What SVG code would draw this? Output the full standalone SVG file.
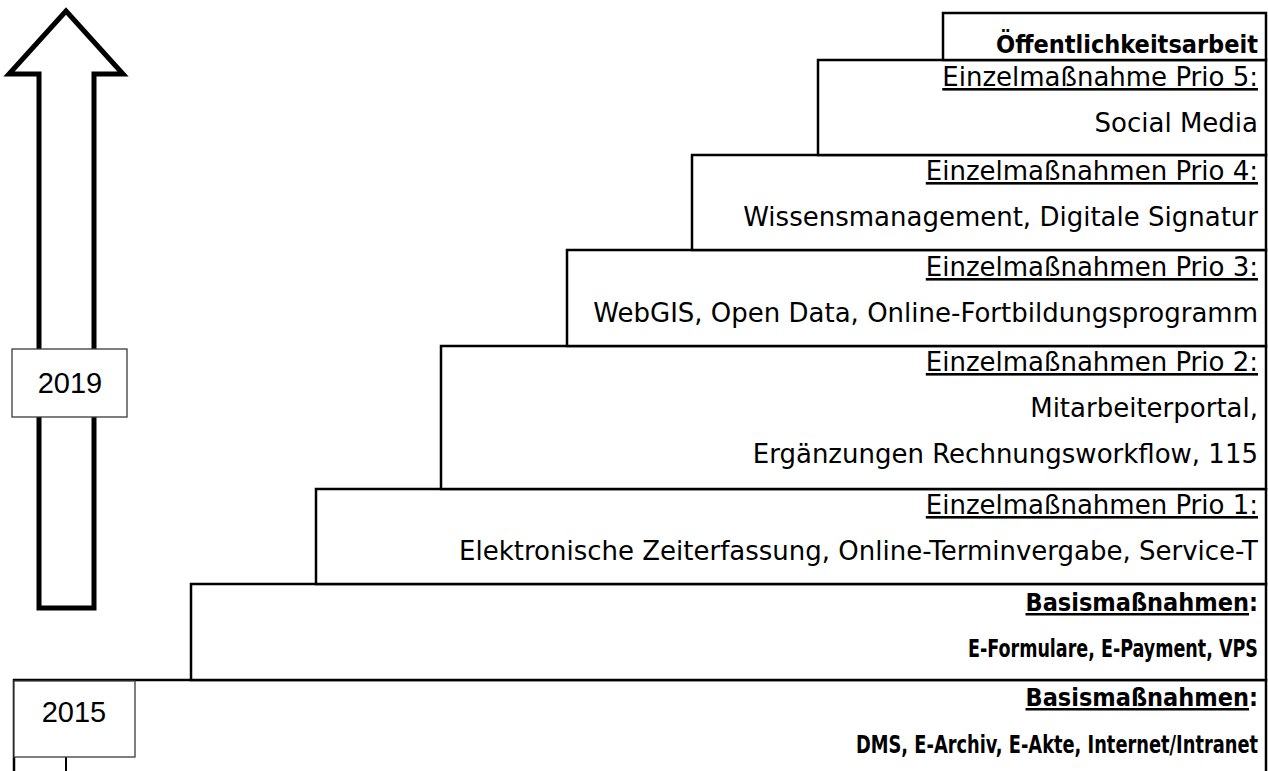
<svg xmlns="http://www.w3.org/2000/svg" width="1268" height="771" viewBox="0 0 1268 771">
  <style>
    .step { fill: #ffffff; stroke: #000000; stroke-width: 2.5; }
    .year { fill: #ffffff; stroke: #3a3a3a; stroke-width: 1.3; }
    .lbl { font-family: "DejaVu Sans", "Liberation Sans", sans-serif; font-size: 26px; fill: #000000; text-anchor: end; }
    .b { font-family: "DejaVu Sans Condensed", "DejaVu Sans", sans-serif; font-stretch: condensed; font-size: 25px; font-weight: bold; }
    .u { text-decoration: underline; }
    .yr { font-family: "Liberation Sans", "DejaVu Sans", sans-serif; font-size: 29px; fill: #000000; text-anchor: middle; }
  </style>

  <rect width="1268" height="771" fill="#ffffff"/>

  <!-- staircase of measures, bottom step first -->
  <g id="step-basis1">
    <rect class="step" x="14" y="680" width="1252" height="120"/>
    <text class="lbl b" x="1258" y="706"><tspan class="u">Basismaßnahmen</tspan>:</text>
    <text class="lbl b" x="1258" y="753" textLength="402" lengthAdjust="spacingAndGlyphs">DMS, E-Archiv, E-Akte, Internet/Intranet</text>
  </g>

  <g id="step-basis2">
    <rect class="step" x="191" y="584" width="1075" height="96"/>
    <text class="lbl b" x="1258" y="611"><tspan class="u">Basismaßnahmen</tspan>:</text>
    <text class="lbl b" x="1258" y="657" textLength="290" lengthAdjust="spacingAndGlyphs">E-Formulare, E-Payment, VPS</text>
  </g>

  <g id="step-prio1">
    <rect class="step" x="316" y="489" width="950" height="95"/>
    <text class="lbl" x="1258" y="514"><tspan class="u">Einzelmaßnahmen Prio 1:</tspan></text>
    <text class="lbl" x="1258" y="560">Elektronische Zeiterfassung, Online-Terminvergabe, Service-T</text>
  </g>

  <g id="step-prio2">
    <rect class="step" x="441" y="346" width="825" height="143"/>
    <text class="lbl" x="1258" y="371"><tspan class="u">Einzelmaßnahmen Prio 2:</tspan></text>
    <text class="lbl" x="1258" y="417">Mitarbeiterportal,</text>
    <text class="lbl" x="1258" y="463">Ergänzungen Rechnungsworkflow, 115</text>
  </g>

  <g id="step-prio3">
    <rect class="step" x="567" y="250" width="699" height="96"/>
    <text class="lbl" x="1258" y="276"><tspan class="u">Einzelmaßnahmen Prio 3:</tspan></text>
    <text class="lbl" x="1258" y="322">WebGIS, Open Data, Online-Fortbildungsprogramm</text>
  </g>

  <g id="step-prio4">
    <rect class="step" x="692" y="155" width="574" height="95"/>
    <text class="lbl" x="1258" y="180"><tspan class="u">Einzelmaßnahmen Prio 4:</tspan></text>
    <text class="lbl" x="1258" y="226">Wissensmanagement, Digitale Signatur</text>
  </g>

  <g id="step-prio5">
    <rect class="step" x="818" y="60" width="448" height="95"/>
    <text class="lbl" x="1258" y="86"><tspan class="u">Einzelmaßnahme Prio 5:</tspan></text>
    <text class="lbl" x="1258" y="132">Social Media</text>
  </g>

  <g id="step-pr">
    <rect class="step" x="943" y="13" width="323" height="47"/>
    <text class="lbl b" x="1258" y="53" textLength="262" lengthAdjust="spacingAndGlyphs">Öffentlichkeitsarbeit</text>
  </g>

  <!-- time axis: block arrow with year markers -->
  <g id="time-arrow">
    <path d="M66,11 L123,74 L94,74 L94,608 L39,608 L39,74 L9,74 Z" fill="#ffffff" stroke="#000000" stroke-width="5" stroke-linejoin="miter"/>
  </g>

  <g id="year-2019">
    <rect class="year" x="12" y="349" width="115" height="68"/>
    <text class="yr" x="70" y="393">2019</text>
  </g>

  <g id="connectors">
    <line x1="66" y1="757" x2="66" y2="771" stroke="#000000" stroke-width="2"/>
  </g>

  <g id="year-2015">
    <rect class="year" x="14" y="681" width="121" height="76"/>
    <text class="yr" x="74" y="722">2015</text>
  </g>
</svg>
